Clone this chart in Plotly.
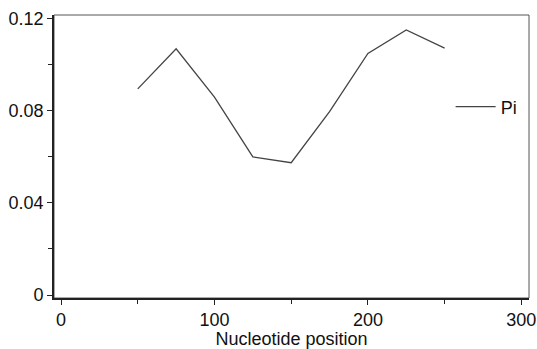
import plotly.graph_objects as go

positions = [50, 75, 100, 125, 150, 175, 200, 225, 250]
pi_values = [0.0896, 0.1070, 0.0860, 0.0600, 0.0575, 0.0797, 0.1050, 0.1152, 0.1073]
x_ticks = [0, 100, 200, 300]
y_ticks = [0, 0.04, 0.08, 0.12]
y_tick_labels = ["0", "0.04", "0.08", "0.12"]

fig = go.Figure()
fig.add_trace(go.Scatter(x=positions, y=pi_values, mode="lines", name="Pi",
                         line=dict(color="#444444", width=1.3)))

font = dict(family="Liberation Sans, Arial, sans-serif", size=18, color="#111111")

fig.update_layout(
    width=537, height=349,
    margin=dict(l=54, r=8, t=15, b=51),
    paper_bgcolor="white", plot_bgcolor="white",
    font=font,
    showlegend=True,
    legend=dict(x=0.835, y=0.675, xanchor="left", yanchor="middle",
                itemwidth=40,
                bgcolor="rgba(0,0,0,0)", font=font),
    xaxis=dict(range=[-4.6, 305], tickmode="array", tickvals=x_ticks,
               ticktext=[str(v) for v in x_ticks], automargin=False,
               ticklabeloverflow="allow",
               ticks="outside", ticklen=5, tickcolor="#222", tickwidth=1,
               minor=dict(tickvals=[50, 150, 250], ticks="outside", ticklen=4,
                          tickcolor="#222", tickwidth=1, showgrid=False),
               showgrid=False, zeroline=False,
               showline=True, linecolor="#222", linewidth=1.6,
               title=dict(text="Nucleotide position", font=font)),
    yaxis=dict(range=[-0.0013, 0.1217], tickmode="array", tickvals=y_ticks,
               ticktext=y_tick_labels, automargin=False,
               ticks="outside", ticklen=5, tickcolor="#222", tickwidth=1,
               minor=dict(tickvals=[0.02, 0.06, 0.10], ticks="outside", ticklen=4,
                          tickcolor="#222", tickwidth=1, showgrid=False),
               showgrid=False, zeroline=False,
               showline=True, linecolor="#222", linewidth=1.6),
    shapes=[dict(type="rect", xref="paper", yref="paper", x0=0, y0=0, x1=1, y1=1,
                 line=dict(color="#555555", width=1), layer="below")],
)

fig.write_html("out.html",
               config={"displayModeBar": False},
               post_script="document.body.style.margin='0';document.body.style.overflow='hidden';")
